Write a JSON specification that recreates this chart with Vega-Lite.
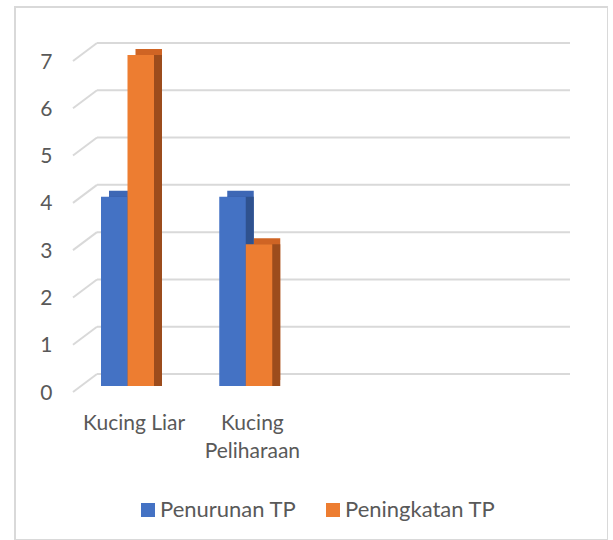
{
  "$schema": "https://vega.github.io/schema/vega-lite/v6.json",
  "autosize": {"type": "none"},
  "padding": {"left": 15, "top": 7, "right": 0, "bottom": 0},
  "width": 593,
  "height": 533,
  "background": "white",
  "config": {
    "view": {"stroke": "#d9d9d9", "strokeWidth": 2},
    "font": "Lato",
    "axis": {"labelFont": "Lato", "labelColor": "#595959", "labelFontSize": 21, "title": null}
  },
  "datasets": {
    "bars": [
      {"category": "Kucing Liar", "series": "Penurunan TP", "value": 4},
      {"category": "Kucing Liar", "series": "Peningkatan TP", "value": 7},
      {"category": "Kucing Peliharaan", "series": "Penurunan TP", "value": 4},
      {"category": "Kucing Peliharaan", "series": "Peningkatan TP", "value": 3}
    ],
    "grid": [
      {"v": 0}, {"v": 1}, {"v": 2}, {"v": 3}, {"v": 4}, {"v": 5}, {"v": 6}, {"v": 7}
    ]
  },
  "layer": [
    {
      "data": {"name": "grid"},
      "mark": {"type": "rule", "color": "#d9d9d9", "strokeWidth": 2},
      "encoding": {
        "y": {"field": "v", "type": "quantitative", "title": null},
        "x": {"datum": "Kucing Liar", "bandPosition": 0, "type": "nominal", "title": null},
        "x2": {"datum": "  ", "bandPosition": 1}
      }
    },
    {
      "data": {"name": "grid"},
      "mark": {"type": "rule", "color": "#d9d9d9", "strokeWidth": 2, "xOffset": -24, "yOffset": 18},
      "encoding": {
        "y": {"field": "v", "type": "quantitative", "title": null},
        "y2": {"field": "v"},
        "x": {"datum": "Kucing Liar", "bandPosition": 0, "type": "nominal", "title": null},
        "x2": {"datum": "Kucing Liar", "bandPosition": 0}
      }
    },
    {
      "data": {"name": "bars"},
      "transform": [{"filter": "datum.series === 'Penurunan TP'"}],
      "mark": {"type": "bar", "width": 26.5, "xOffset": -33.875, "yOffset": 6, "y2Offset": 6, "color": "#3d67b5"},
      "encoding": {
        "x": {"field": "category", "type": "nominal", "title": null},
        "y": {"field": "value", "type": "quantitative", "title": null}
      }
    },
    {
      "data": {"name": "bars"},
      "transform": [{"filter": "datum.series === 'Peningkatan TP'"}],
      "mark": {"type": "bar", "width": 26.5, "xOffset": -7.375, "yOffset": 6, "y2Offset": 6, "color": "#cf6424"},
      "encoding": {
        "x": {"field": "category", "type": "nominal", "title": null},
        "y": {"field": "value", "type": "quantitative", "title": null}
      }
    },
    {
      "data": {"name": "bars"},
      "transform": [{"filter": "datum.series === 'Penurunan TP'"}],
      "mark": {"type": "bar", "width": 26.5, "xOffset": -33.875, "yOffset": 12, "y2Offset": 6, "color": "#2f528f"},
      "encoding": {
        "x": {"field": "category", "type": "nominal", "title": null},
        "y": {"field": "value", "type": "quantitative", "title": null}
      }
    },
    {
      "data": {"name": "bars"},
      "transform": [{"filter": "datum.series === 'Peningkatan TP'"}],
      "mark": {"type": "bar", "width": 26.5, "xOffset": -7.375, "yOffset": 12, "y2Offset": 6, "color": "#9c4c1c"},
      "encoding": {
        "x": {"field": "category", "type": "nominal", "title": null},
        "y": {"field": "value", "type": "quantitative", "title": null}
      }
    },
    {
      "data": {"name": "bars"},
      "transform": [{"filter": "datum.series === 'Penurunan TP'"}],
      "mark": {"type": "bar", "width": 26.5, "xOffset": -41.875, "yOffset": 12, "y2Offset": 12},
      "encoding": {
        "x": {"field": "category", "type": "nominal", "title": null},
        "y": {"field": "value", "type": "quantitative", "title": null},
        "color": {"field": "series", "type": "nominal"}
      }
    },
    {
      "data": {"name": "bars"},
      "transform": [{"filter": "datum.series === 'Peningkatan TP'"}],
      "mark": {"type": "bar", "width": 26.5, "xOffset": -15.375, "yOffset": 12, "y2Offset": 12},
      "encoding": {
        "x": {
          "field": "category", "type": "nominal", "title": null,
          "scale": {"domain": ["Kucing Liar", "Kucing Peliharaan", " ", "  "], "range": [82, 555], "paddingInner": 0, "paddingOuter": 0},
          "axis": {
            "title": null, "orient": "bottom", "offset": -111, "domain": false, "ticks": false, "tickSize": 0,
            "labelPadding": 0, "labelBaseline": "alphabetic", "labelAlign": "center", "labelAngle": 0, "labelOffset": -22,
            "labelOverlap": false, "labelBound": false, "labelLineHeight": 28, "grid": false,
            "labelExpr": "datum.value == 'Kucing Peliharaan' ? ['Kucing', 'Peliharaan'] : datum.value"
          }
        },
        "y": {
          "field": "value", "type": "quantitative", "title": null,
          "scale": {"domain": [0, 7], "range": [367, 36], "nice": false, "zero": true},
          "axis": {
            "title": null, "tickCount": 8, "values": [0, 1, 2, 3, 4, 5, 6, 7], "grid": false, "domain": false, "ticks": false, "tickSize": 0,
            "labelPadding": 0, "offset": -37, "labelOffset": 19
          }
        },
        "color": {
          "field": "series", "type": "nominal",
          "scale": {"domain": ["Penurunan TP", "Peningkatan TP"], "range": ["#4472c4", "#ed7d31"]},
          "legend": {
            "title": null, "orient": "none", "direction": "horizontal", "legendX": 122, "legendY": 492,
            "symbolType": "square", "symbolSize": 196, "symbolStrokeWidth": 0, "symbolOpacity": 1,
            "labelFont": "Lato", "labelFontSize": 22, "labelColor": "#595959", "labelOffset": 1,
            "columnPadding": 25, "padding": 0, "labelLimit": 300
          }
        }
      }
    }
  ]
}
